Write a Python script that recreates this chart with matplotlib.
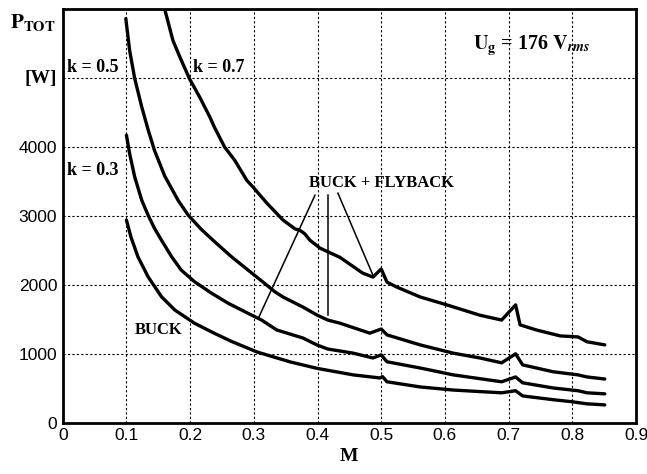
import matplotlib.pyplot as plt

plt.rcParams["mathtext.fontset"] = "stix"

# curve data: modulation index M vs total power P_TOT [W]
m_k07 = [0.160, 0.173, 0.184, 0.199, 0.215, 0.231, 0.238, 0.254, 0.270, 0.289, 0.299, 0.320, 0.346,
         0.365, 0.372, 0.380, 0.388, 0.404, 0.435, 0.471, 0.487, 0.500, 0.509, 0.524, 0.561, 0.603,
         0.655, 0.689, 0.711, 0.718, 0.744, 0.781, 0.809, 0.823, 0.851]
p_k07 = [6000, 5543, 5301, 4988, 4722, 4433, 4288, 4000, 3806, 3515, 3415, 3190, 2938,
         2810, 2793, 2740, 2648, 2532, 2400, 2170, 2113, 2230, 2040, 1970, 1825, 1710,
         1560, 1490, 1710, 1420, 1345, 1260, 1245, 1175, 1130]

m_k05 = [0.099, 0.105, 0.113, 0.124, 0.134, 0.144, 0.160, 0.181, 0.197, 0.218, 0.238, 0.265, 0.291,
         0.317, 0.333, 0.346, 0.377, 0.399, 0.416, 0.435, 0.482, 0.500, 0.509, 0.561, 0.613, 0.655,
         0.689, 0.711, 0.722, 0.770, 0.809, 0.823, 0.851]
p_k05 = [5860, 5400, 4990, 4580, 4250, 3950, 3580, 3227, 3010, 2800, 2630, 2407, 2214,
         2021, 1900, 1823, 1679, 1563, 1490, 1445, 1300, 1360, 1275, 1130, 1010, 940,
         870, 1000, 840, 740, 695, 665, 635]

m_k03 = [0.100, 0.105, 0.113, 0.124, 0.134, 0.144, 0.155, 0.171, 0.186, 0.207, 0.234, 0.260, 0.291,
         0.312, 0.336, 0.377, 0.399, 0.416, 0.456, 0.487, 0.500, 0.509, 0.561, 0.613, 0.689, 0.711,
         0.722, 0.770, 0.809, 0.823, 0.851]
p_k03 = [4170, 3903, 3564, 3227, 3010, 2820, 2648, 2407, 2214, 2045, 1877, 1732, 1587,
         1491, 1346, 1230, 1129, 1070, 1010, 940, 985, 885, 795, 695, 595, 665,
         580, 505, 465, 435, 420]

m_buck = [0.100, 0.107, 0.118, 0.134, 0.155, 0.176, 0.207, 0.238, 0.265, 0.305, 0.357, 0.399, 0.456,
          0.498, 0.502, 0.509, 0.561, 0.613, 0.689, 0.711, 0.722, 0.770, 0.800, 0.823, 0.851]
p_buck = [2938, 2696, 2407, 2117, 1828, 1635, 1443, 1298, 1180, 1027, 883, 790, 695,
          650, 670, 595, 520, 475, 435, 465, 390, 335, 305, 275, 260]

curves = [(m_k07, p_k07), (m_k05, p_k05), (m_k03, p_k03), (m_buck, p_buck)]

xticks = [0, 0.1, 0.2, 0.3, 0.4, 0.5, 0.6, 0.7, 0.8, 0.9]
xlabels = ["0", "0.1", "0.2", "0.3", "0.4", "0.5", "0.6", "0.7", "0.8", "0.9"]
yticks = [0, 1000, 2000, 3000, 4000, 5000, 6000]
ylabels = ["0", "1000", "2000", "3000", "4000", "", ""]

# leader lines from "BUCK + FLYBACK" to the curves
leader_start = [(0.396, 3300), (0.416, 3300), (0.432, 3330)]
leader_end = [(0.308, 1535), (0.416, 1560), (0.487, 2140)]

serif = "Liberation Serif"

fig = plt.figure(figsize=(6.47, 4.74), dpi=100)
ax = fig.add_axes([0.097, 0.108, 0.886, 0.873])

for m, p in curves:
    ax.plot(m, p, color="black", lw=2.4, solid_joinstyle="round", solid_capstyle="round")

for (x0, y0), (x1, y1) in zip(leader_start, leader_end):
    ax.plot([x0, x1], [y0, y1], color="black", lw=1.1)

ax.set_xlim(0, 0.9)
ax.set_ylim(0, 6000)
ax.set_xticks(xticks)
ax.set_xticklabels(xlabels, fontfamily="Liberation Sans", fontsize=12.5)
ax.set_yticks(yticks)
ax.set_yticklabels(ylabels, fontfamily="Liberation Sans", fontsize=12.5)
ax.tick_params(length=0, pad=4)
ax.grid(True, color="black", linestyle=(0, (2, 2)), lw=0.8)
for s in ax.spines.values():
    s.set_linewidth(2)

ax.text(0.006, 5150, "k = 0.5", fontfamily=serif, fontweight="bold", fontsize=13, va="center", ha="left")
ax.text(0.204, 5150, "k = 0.7", fontfamily=serif, fontweight="bold", fontsize=13, va="center", ha="left")
ax.text(0.006, 3660, "k = 0.3", fontfamily=serif, fontweight="bold", fontsize=13, va="center", ha="left")
ax.text(0.501, 3470, "BUCK + FLYBACK", fontfamily=serif, fontweight="bold", fontsize=12, va="center", ha="center")
ax.text(0.151, 1346, "BUCK", fontfamily=serif, fontweight="bold", fontsize=12, va="center", ha="center")
ax.text(0.644, 5470, r"$\mathbf{U_g}$ = 176 $\mathbf{V}_{\mathbfit{rms}}$", fontfamily=serif,
        fontweight="bold", fontsize=14.5, va="center", ha="left")

fig.text(0.015, 0.953, r"$\mathbf{P_{TOT}}$", fontsize=15, va="center", ha="left")
fig.text(0.088, 0.834, "[W]", fontfamily=serif, fontweight="bold", fontsize=14, va="center", ha="right")
ax.set_xlabel("M", fontfamily=serif, fontweight="bold", fontsize=14, labelpad=3)

fig.savefig("out.png", dpi=100)
